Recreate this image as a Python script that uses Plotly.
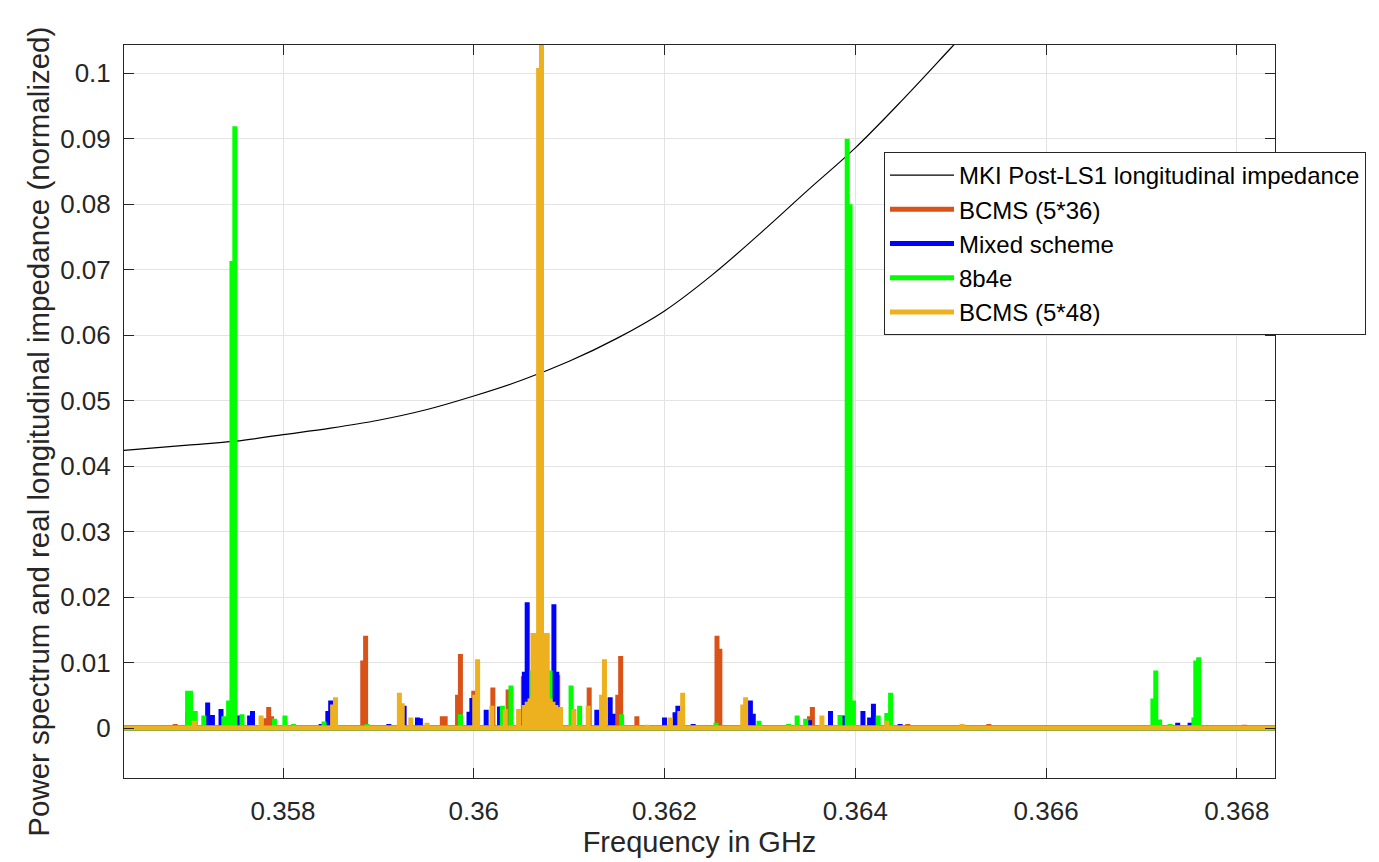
import plotly.graph_objects as go

# ---------------- data ----------------
# spectrum span (GHz)
spectrum_span = [0.3562, 0.3686]

# MKI Post-LS1 real longitudinal impedance (normalized)
imp_freq = [0.35633, 0.3570, 0.3575, 0.3580, 0.3585, 0.3590, 0.3595, 0.3600, 0.3605,
            0.3610, 0.3615, 0.3620, 0.3625, 0.3630, 0.3635, 0.3640, 0.3645, 0.3650, 0.3653]
imp_val = [0.0424, 0.0432, 0.0438, 0.0448, 0.0458, 0.0470, 0.0486, 0.0507, 0.0531,
           0.0560, 0.0595, 0.0637, 0.0692, 0.0755, 0.0821, 0.0886, 0.0960, 0.1038, 0.1085]

# BCMS (5*36)
bcms36_freq = [0.35687, 0.35700, 0.35782, 0.35785, 0.35788, 0.358836, 0.358866, 0.35967,
               0.35970, 0.35983, 0.35986, 0.36000, 0.36020, 0.36036, 0.36052, 0.36088,
               0.36121, 0.36151, 0.36154, 0.36171, 0.36255, 0.36258, 0.36352, 0.36355,
               0.36455, 0.36540, 0.36808]
bcms36_amp = [0.0006, 0.0023, 0.0015, 0.0032, 0.0018, 0.0103, 0.0141, 0.0018,
              0.0018, 0.0051, 0.0113, 0.0057, 0.0062, 0.0059, 0.0079, 0.0081,
              0.0062, 0.0051, 0.0110, 0.0018, 0.0141, 0.0121, 0.0018, 0.0032,
              0.0006, 0.0006, 0.0005]

# Mixed scheme
mixed_freq = [0.35690, 0.35721, 0.35726, 0.35735, 0.35754, 0.35765, 0.35768, 0.35840,
              0.35847, 0.35850, 0.35911, 0.35927, 0.35941, 0.35944, 0.35995, 0.35998,
              0.36013, 0.36027, 0.36053, 0.36056, 0.36084, 0.36087, 0.36129, 0.36143,
              0.36146, 0.36200, 0.36211, 0.36214, 0.36230, 0.36290, 0.36293, 0.36352,
              0.36374, 0.36387, 0.36408, 0.36415, 0.36419, 0.36447, 0.36738, 0.36751]
mixed_amp = [0.0004, 0.0039, 0.0020, 0.0029, 0.0019, 0.0019, 0.0026, 0.0006,
             0.0026, 0.0042, 0.0006, 0.0034, 0.0016, 0.0015, 0.0025, 0.0046,
             0.0028, 0.0033, 0.0086, 0.0192, 0.0189, 0.0086, 0.0028, 0.0047,
             0.0022, 0.0016, 0.0024, 0.0034, 0.0006, 0.0042, 0.0022, 0.0012,
             0.0026, 0.0019, 0.0026, 0.0016, 0.0037, 0.0006, 0.0008, 0.0008]

# 8b4e
b8b4e_freq = [0.35700, 0.35703, 0.35708, 0.35717, 0.35738, 0.35743, 0.357465, 0.357495,
              0.35757, 0.35791, 0.35802, 0.35811, 0.35843, 0.35888, 0.35986, 0.36030,
              0.36039, 0.36061, 0.36080, 0.36102, 0.36111, 0.36155, 0.36254, 0.36299,
              0.36330, 0.36339, 0.36348, 0.36384, 0.363915, 0.363945, 0.36398, 0.36424,
              0.36433, 0.36437, 0.36712, 0.36715, 0.36719, 0.36730, 0.36755, 0.36757,
              0.36760]
b8b4e_amp = [0.0057, 0.0057, 0.0026, 0.0019, 0.0018, 0.0042, 0.0713, 0.0919,
             0.0021, 0.0014, 0.0019, 0.0006, 0.0010, 0.0006, 0.0021, 0.0034,
             0.0065, 0.0088, 0.0088, 0.0065, 0.0034, 0.0021, 0.0008, 0.0011,
             0.0006, 0.0019, 0.0014, 0.0020, 0.0900, 0.0800, 0.0042, 0.0019,
             0.0023, 0.0054, 0.0045, 0.0088, 0.0013, 0.0006, 0.0016, 0.0103,
             0.0108]

# BCMS (5*48)
bcms48_freq = [0.35707, 0.35777, 0.35852, 0.35855, 0.35922, 0.35925, 0.35934, 0.35951,
               0.36001, 0.36004, 0.36019, 0.36033, 0.36047, 0.36053, 0.36056, 0.36059,
               0.36062, 0.36065, 0.36068, 0.36071, 0.36074, 0.36077, 0.36080, 0.36083,
               0.36086, 0.36091, 0.36105, 0.36120, 0.36134, 0.36137, 0.36182, 0.36206,
               0.36216, 0.36219, 0.36282, 0.36285, 0.36365, 0.36433, 0.36512]
bcms48_amp = [0.0011, 0.0019, 0.0036, 0.0047, 0.0054, 0.0038, 0.0016, 0.0008,
              0.0051, 0.0105, 0.0034, 0.0029, 0.0029, 0.0035, 0.0040, 0.0045,
              0.0145, 0.0145, 0.1008, 0.1200, 0.0145, 0.0145, 0.0045, 0.0040,
              0.0035, 0.0032, 0.0029, 0.0034, 0.0051, 0.0105, 0.0005, 0.0016,
              0.0026, 0.0054, 0.0036, 0.0047, 0.0019, 0.0011, 0.0006]

x_ticks = [0.358, 0.360, 0.362, 0.364, 0.366, 0.368]
x_ticklabels = ["0.358", "0.36", "0.362", "0.364", "0.366", "0.368"]
y_ticks = [0, 0.01, 0.02, 0.03, 0.04, 0.05, 0.06, 0.07, 0.08, 0.09, 0.1]
y_ticklabels = ["0", "0.01", "0.02", "0.03", "0.04", "0.05", "0.06", "0.07", "0.08", "0.09", "0.1"]

series = [
    ("BCMS (5*36)", bcms36_freq, bcms36_amp, "#D95319"),
    ("Mixed scheme", mixed_freq, mixed_amp, "#0000FF"),
    ("8b4e", b8b4e_freq, b8b4e_amp, "#00FF00"),
    ("BCMS (5*48)", bcms48_freq, bcms48_amp, "#EDB120"),
]


def spectrum_path(freqs, amps):
    xs, ys = [spectrum_span[0]], [0]
    for f, a in sorted(zip(freqs, amps)):
        xs += [f, f, f]
        ys += [0, a, 0]
    xs.append(spectrum_span[1])
    ys.append(0)
    return xs, ys


FONT = "Liberation Sans, Arial, sans-serif"
TXT = "#262626"

fig = go.Figure()
fig.add_trace(go.Scatter(x=imp_freq, y=imp_val, mode="lines",
                         line=dict(color="black", width=1.2, shape="spline"),
                         name="MKI Post-LS1 longitudinal impedance"))
for name, fr, am, col in series:
    xs, ys = spectrum_path(fr, am)
    fig.add_trace(go.Scatter(x=xs, y=ys, mode="lines",
                             line=dict(color=col, width=5),
                             name=name))

axis_common = dict(showline=True, linecolor=TXT, linewidth=1, mirror="ticks",
                   ticks="inside", ticklen=10, tickcolor=TXT, tickwidth=1,
                   showgrid=True, gridcolor="#E3E3E3", gridwidth=1,
                   zeroline=False, tickfont=dict(family=FONT, size=26, color=TXT))

fig.update_xaxes(range=[0.356333, 0.3684], tickmode="array", tickvals=x_ticks,
                 ticktext=x_ticklabels, ticklabelstandoff=10,
                 title=dict(text="Frequency in GHz", font=dict(family=FONT, size=29, color=TXT),
                            standoff=4),
                 **axis_common)
fig.update_yaxes(range=[-0.00763, 0.1043], tickmode="array", tickvals=y_ticks,
                 ticktext=y_ticklabels, ticklabelstandoff=7,
                 **axis_common)

fig.add_annotation(text="Power spectrum and real longitudinal impedance (normalized)",
                   xref="paper", yref="paper", x=-0.075, y=0.472,
                   xanchor="center", yanchor="middle", textangle=-90, showarrow=False,
                   font=dict(family=FONT, size=29.5, color=TXT))

fig.update_layout(
    width=1371, height=854,
    margin=dict(l=116, r=104, t=37, b=84, autoexpand=False),
    paper_bgcolor="white", plot_bgcolor="white",
    font=dict(family=FONT, color=TXT),
    legend=dict(x=0.6603, y=0.854, xanchor="left", yanchor="top",
                bgcolor="white", bordercolor=TXT, borderwidth=1,
                font=dict(family=FONT, size=24, color="black"),
                itemwidth=64, tracegroupgap=0),
    showlegend=True,
)

fig.write_html("out.html")
